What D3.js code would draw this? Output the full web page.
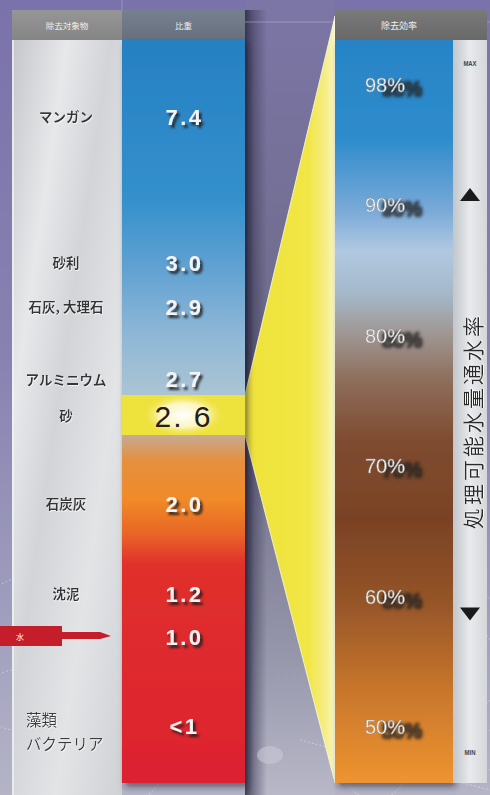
<!DOCTYPE html>
<html><head><meta charset="utf-8">
<script src="https://cdn.jsdelivr.net/npm/d3@7"></script>
<style>body{margin:0;overflow:hidden;background:#8a84b4}svg{display:block}</style>
</head><body><svg id="c" width="490" height="795"></svg>
<script>
// ---------- data ----------
const substances   = ["マンガン","砂利","石灰, 大理石","アルミニウム","砂","石炭灰","沈泥","水","藻類\nバクテリア"];
const gravity      = [7.4, 3.0, 2.9, 2.7, 2.6, 2.0, 1.2, 1.0, 0.5];
const gravityLabels= ["7.4","3.0","2.9","2.7","2.6","2.0","1.2","1.0","<1"];
const efficiency   = [98, 90, 80, 70, 60, 50];
const effLabels    = ["98%","90%","80%","70%","60%","50%"];
const headers      = ["除去対象物","比重","除去効率"];
const sideTitle    = "処理可能水量通水率";
const rangeLabels  = ["MAX","MIN"];
const highlighted  = "砂";
const waterItem    = "水";

// ---------- layout ----------
const W = 490, H = 795;
const L = {x0: 12, x1: 122, x2: 245, top: 10, head: 40, bottom: 783};
const R = {x0: 335, x1: 453, x2: 487, top: 10, head: 40, bottom: 783};
const JP = "'Noto Sans CJK JP','Noto Sans',sans-serif";
const NUM = "'Liberation Sans','DejaVu Sans',sans-serif";

// scales (the gravity axis of the original is drawn non-uniformly, so piecewise)
const yG = d3.scaleLinear().domain([7.4, 3.0, 2.9, 2.6, 2.0, 1.2, 1.0, 0.5])
             .range([116, 262, 306, 415, 503, 593, 636, 725]);
const yE = d3.scaleLinear().domain([50, 90, 98]).range([727, 205, 85]);

const svg = d3.select("#c");
const defs = svg.append("defs");

function linGrad(id, stops, attrs) {
  const g = defs.append("linearGradient").attr("id", id);
  Object.entries(attrs).forEach(([k, v]) => g.attr(k, v));
  stops.forEach(([o, c, op]) => g.append("stop").attr("offset", o).attr("stop-color", c).attr("stop-opacity", op == null ? 1 : op));
  return g;
}
linGrad("bg", [[0,"#7a72aa"],[0.45,"#8882b2"],[0.75,"#9e9cbc"],[1,"#b4b4c6"]], {x1:0,y1:0,x2:0,y2:1});
linGrad("gap", [[0,"#7c76a6"],[0.5,"#6c6a86"],[0.8,"#9292a8"],[1,"#b8b8c8"]], {x1:0,y1:0,x2:0,y2:1});
linGrad("shadowR", [[0,"#2a2840",0.85],[0.4,"#3a3852",0.5],[1,"#3a3852",0]], {x1:0,y1:0,x2:1,y2:0});
linGrad("silver", [[0,"#c4c6ca"],[0.25,"#e6e8ea"],[0.45,"#d2d4d8"],[0.7,"#e2e4e6"],[1,"#cfd1d5"]], {x1:0,y1:0,x2:1,y2:1});
linGrad("silverV", [[0,"#c2c6ca"],[0.5,"#e8eaec"],[1,"#d4d6da"]], {x1:0,y1:0,x2:1,y2:0});
linGrad("hdrL", [[0,"#969696"],[1,"#858585"]], {x1:0,y1:0,x2:0,y2:1});
linGrad("hdrM", [[0,"#76808e"],[1,"#66717f"]], {x1:0,y1:0,x2:0,y2:1});
linGrad("hdrR", [[0,"#7a7a7a"],[1,"#686868"]], {x1:0,y1:0,x2:0,y2:1});
linGrad("gcol", [
  [0,"#2680c2"],[0.215,"#3490cc"],[0.31,"#62a2d2"],[0.40,"#90b8d6"],[0.475,"#aac4d4"],
  [0.534,"#c8a88e"],[0.565,"#e49040"],[0.619,"#f08a28"],[0.666,"#e86428"],[0.706,"#e0302c"],[1,"#dc2230"]
], {gradientUnits:"userSpaceOnUse", x1:0, y1:L.head, x2:0, y2:L.bottom});
linGrad("ecol", [
  [0,"#2784c6"],[0.135,"#2f8ccc"],[0.23,"#7aaad8"],[0.283,"#b0c8e2"],[0.343,"#a4b8c8"],
  [0.39,"#a09a98"],[0.457,"#8e6e5c"],[0.538,"#7e4c30"],[0.646,"#7a4224"],[0.753,"#945428"],
  [0.875,"#c8762c"],[1,"#ee9430"]
], {gradientUnits:"userSpaceOnUse", x1:0, y1:R.head, x2:0, y2:R.bottom});
linGrad("wedge", [[0,"#efe23a"],[0.7,"#f1e644"],[0.9,"#f5ee88"],[1,"#faf6c8"]], {x1:0,y1:0,x2:1,y2:0});
const rg = defs.append("radialGradient").attr("id","glow");
rg.append("stop").attr("offset",0).attr("stop-color","#ffffff").attr("stop-opacity",1);
rg.append("stop").attr("offset",0.55).attr("stop-color","#fffbe0").attr("stop-opacity",0.8);
rg.append("stop").attr("offset",1).attr("stop-color","#eee23c").attr("stop-opacity",0);

const f1 = defs.append("filter").attr("id","txtsh").attr("x","-30%").attr("y","-30%").attr("width","160%").attr("height","160%");
f1.append("feDropShadow").attr("dx",2.5).attr("dy",3).attr("stdDeviation",1.3).attr("flood-color","#1a1a1a").attr("flood-opacity",0.9);
// offset blurred shadow for percent labels (single text element)
const f2 = defs.append("filter").attr("id","pctsh").attr("x","-20%").attr("y","-40%").attr("width","180%").attr("height","200%");
f2.append("feMorphology").attr("in","SourceAlpha").attr("operator","dilate").attr("radius",0.8).attr("result","d");
f2.append("feGaussianBlur").attr("in","d").attr("stdDeviation",1.6).attr("result","b");
f2.append("feOffset").attr("in","b").attr("dx",17).attr("dy",4).attr("result","o");
f2.append("feFlood").attr("flood-color","#222").attr("flood-opacity",0.75);
f2.append("feComposite").attr("in2","o").attr("operator","in").attr("result","s");
const m2 = f2.append("feMerge");
m2.append("feMergeNode").attr("in","s");
m2.append("feMergeNode").attr("in","SourceGraphic");
const f3 = defs.append("filter").attr("id","panelsh").attr("x","-10%").attr("y","-5%").attr("width","130%").attr("height","110%");
f3.append("feDropShadow").attr("dx",3).attr("dy",4).attr("stdDeviation",3).attr("flood-color","#202030").attr("flood-opacity",0.55);
const f4 = defs.append("filter").attr("id","emboss");
f4.append("feDropShadow").attr("dx",0.6).attr("dy",0.8).attr("stdDeviation",0.3).attr("flood-color","#ffffff").attr("flood-opacity",0.9);

// ---------- background ----------
svg.append("rect").attr("width",W).attr("height",H).attr("fill","url(#bg)");
svg.append("rect").attr("x",L.x2).attr("y",0).attr("width",R.x0-L.x2).attr("height",H).attr("fill","url(#gap)");
svg.append("rect").attr("x",L.x2).attr("y",L.top).attr("width",22).attr("height",H-L.top).attr("fill","url(#shadowR)");
svg.append("line").attr("x1",L.x1).attr("x2",W).attr("y1",22).attr("y2",22).attr("stroke","#b4aed4").attr("stroke-width",0.8).attr("opacity",0.7);
svg.append("line").attr("x1",L.x1).attr("x2",L.x1).attr("y1",0).attr("y2",22).attr("stroke","#b4aed4").attr("stroke-width",0.8).attr("opacity",0.7);

// decorative dashed circles / lines
const deco = svg.append("g").attr("fill","none").attr("stroke","#ffffff").attr("stroke-width",0.7).attr("stroke-dasharray","2,2").attr("opacity",0.55);
[[60,700,130],[15,700,30],[60,705,30],[375,770,30]].forEach(([cx,cy,r]) => deco.append("circle").attr("cx",cx).attr("cy",cy).attr("r",r));
[[430,520,490,600],[420,535,490,640],[300,740,490,790],[320,720,490,770],[440,760,490,700],[395,775,490,730]].forEach(([a,b,c,d]) =>
  deco.append("line").attr("x1",a).attr("y1",b).attr("x2",c).attr("y2",d));
svg.append("ellipse").attr("cx",270).attr("cy",755).attr("rx",13).attr("ry",9).attr("fill","#c8c8d6").attr("opacity",0.6);

// ---------- yellow wedge ----------
const band = [yG(2.6)-20, yG(2.6)+20];
svg.append("path")
  .attr("d", d3.line()([[L.x2, band[0]], [R.x0, R.top+6], [R.x0, R.bottom], [L.x2, band[1]]]) + "Z")
  .attr("fill","url(#wedge)").attr("stroke","#fdfbe8").attr("stroke-width",0.8);

// ---------- left panel ----------
const left = svg.append("g");
left.append("rect").attr("x",L.x0).attr("y",L.head).attr("width",L.x1-L.x0).attr("height",H-L.head).attr("fill","url(#silver)");
left.append("rect").attr("x",L.x0).attr("y",L.head).attr("width",2).attr("height",H-L.head).attr("fill","#f4f4f6").attr("opacity",0.7);
left.append("rect").attr("x",L.x0).attr("y",L.top).attr("width",L.x1-L.x0).attr("height",L.head-L.top).attr("fill","url(#hdrL)");
left.append("rect").attr("x",L.x1).attr("y",L.top).attr("width",L.x2-L.x1).attr("height",L.head-L.top).attr("fill","url(#hdrM)");
left.append("rect").attr("x",L.x1).attr("y",L.head).attr("width",L.x2-L.x1).attr("height",L.bottom-L.head)
    .attr("fill","url(#gcol)").attr("filter","url(#panelsh)");
// highlight band
left.append("rect").attr("x",L.x1).attr("y",band[0]).attr("width",L.x2-L.x1).attr("height",band[1]-band[0]).attr("fill","#eee23c");
left.append("ellipse").attr("cx",(L.x1+L.x2)/2).attr("cy",yG(2.6)).attr("rx",42).attr("ry",22).attr("fill","url(#glow)");

left.selectAll("text.hdr").data(headers.slice(0,2)).join("text")
  .attr("x",(d,i)=> i===0 ? (L.x0+L.x1)/2 : (L.x1+L.x2)/2).attr("y",(L.top+L.head)/2)
  .attr("text-anchor","middle").attr("dominant-baseline","central")
  .attr("font-family",JP).attr("font-size",8.5).attr("fill","#eeeeee").text(d=>d);

const rows = substances.map((s,i)=>({name:s, g:gravity[i], label:gravityLabels[i]}));

// names (water shown as arrow)
rows.filter(r=>r.name!==waterItem).forEach(r=>{
  const lines = r.name.split("\n");
  if (lines.length > 1) {
    const t = left.append("text").attr("font-family",JP).attr("font-size",15.5).attr("fill","#3a3a3a")
      .attr("filter","url(#emboss)");
    lines.forEach((ln,k)=> t.append("tspan").attr("x",26).attr("y",yG(r.g)-6 + k*24).attr("dominant-baseline","central").text(ln));
  } else {
    left.append("text").attr("x",66).attr("y",yG(r.g)).attr("text-anchor","middle").attr("dominant-baseline","central")
      .attr("font-family",JP).attr("font-size",13.5).attr("font-weight",700).attr("fill","#353535")
      .attr("filter","url(#emboss)").text(r.name);
  }
});

// gravity values
rows.forEach(r=>{
  const hi = r.name === highlighted;
  left.append("text").attr("x",(L.x1+L.x2)/2 + (hi?0:1)).attr("y",yG(r.g)+1)
    .attr("text-anchor","middle").attr("dominant-baseline","central")
    .attr("font-family",NUM).attr("font-size",hi?30:22).attr("font-weight",hi?400:700)
    .attr("letter-spacing",hi?2:2.5)
    .attr("fill",hi?"#202020":"#f4f4f4").attr("filter",hi?null:"url(#txtsh)")
    .text(r.label.replace(".", hi?". ":"."));
});

// water arrow
const yw = yG(gravity[substances.indexOf(waterItem)]);
svg.append("path").attr("d", d3.line()([[0,yw-10],[62,yw-10],[62,yw-4],[100,yw-4],[111,yw],[100,yw+3],[62,yw+3],[62,yw+10],[0,yw+10]])+"Z")
  .attr("fill","#c41e2a");
svg.append("text").attr("x",20).attr("y",yw).attr("dominant-baseline","central").attr("text-anchor","middle")
  .attr("font-family",JP).attr("font-size",8).attr("fill","#ffffff").text(waterItem);

// ---------- right panel ----------
const right = svg.append("g");
right.append("rect").attr("x",R.x0).attr("y",R.head).attr("width",R.x1-R.x0).attr("height",R.bottom-R.head)
  .attr("fill","url(#ecol)").attr("filter","url(#panelsh)");
right.append("rect").attr("x",R.x1).attr("y",R.head).attr("width",R.x2-R.x1).attr("height",R.bottom-R.head).attr("fill","url(#silverV)");
right.append("rect").attr("x",R.x0).attr("y",R.top).attr("width",R.x2-R.x0).attr("height",R.head-R.top).attr("fill","url(#hdrR)");
right.append("text").attr("x",(R.x0+R.x1)/2+5).attr("y",(R.top+R.head)/2).attr("text-anchor","middle").attr("dominant-baseline","central")
  .attr("font-family",JP).attr("font-size",9).attr("fill","#eeeeee").text(headers[2]);

// efficiency labels with blurred offset shadow (via filter)
const eff = efficiency.map((v,i)=>({v, label:effLabels[i]}));
right.selectAll("text.ev").data(eff).join("text").attr("class","ev")
  .attr("x",365).attr("y",d=>yE(d.v)).attr("dominant-baseline","central")
  .attr("font-family",NUM).attr("font-size",20).attr("fill","#f6f6f6").attr("stroke","#8a8a8a").attr("stroke-width",0.4)
  .attr("filter","url(#pctsh)").text(d=>d.label);

// side strip: MAX / MIN, arrows, title
const sx = (R.x1+R.x2)/2;
right.append("text").attr("x",sx).attr("y",yE(98)-22).attr("text-anchor","middle").attr("dominant-baseline","central")
  .attr("font-family",NUM).attr("font-size",7).attr("font-weight",700).attr("fill","#444").attr("transform",`translate(${sx},0) scale(0.85,1) translate(${-sx},0)`).text(rangeLabels[0]);
right.append("text").attr("x",sx).attr("y",yE(50)+25).attr("text-anchor","middle").attr("dominant-baseline","central")
  .attr("font-family",NUM).attr("font-size",7).attr("font-weight",700).attr("fill","#444").attr("transform",`translate(${sx},0) scale(0.85,1) translate(${-sx},0)`).text(rangeLabels[1]);
right.append("path").attr("d",d3.line()([[sx-10,yE(90)-4],[sx,yE(90)-17],[sx+10,yE(90)-4]])+"Z").attr("fill","#1a1a1a");
right.append("path").attr("d",d3.line()([[sx-10,yE(60)+11],[sx,yE(60)+24],[sx+10,yE(60)+11]])+"Z").attr("fill","#1a1a1a");
const ty = (yE(80)+yE(60))/2 - 45;
right.append("text").attr("transform",`translate(${sx+2},${ty}) rotate(-90)`).attr("text-anchor","middle").attr("dominant-baseline","central")
  .attr("font-family",JP).attr("font-size",21).attr("letter-spacing",3).attr("fill","#2a2a2a").attr("filter","url(#emboss)").text(sideTitle);
</script>
</body></html>
